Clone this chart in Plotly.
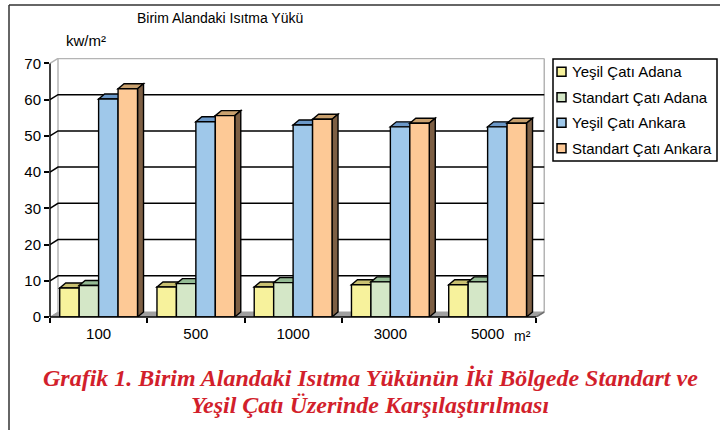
import plotly.graph_objects as go

categories = ["100", "500", "1000", "3000", "5000"]
series_names = ["Yeşil Çatı Adana", "Standart Çatı Adana", "Yeşil Çatı Ankara", "Standart Çatı Ankara"]
yesil_adana = [8.0, 8.3, 8.3, 8.9, 8.9]
standart_adana = [8.7, 9.2, 9.5, 9.7, 9.7]
yesil_ankara = [60.2, 53.9, 53.0, 52.5, 52.5]
standart_ankara = [63.0, 55.6, 54.6, 53.5, 53.5]
y_ticks = [0, 10, 20, 30, 40, 50, 60, 70]

series_values = [yesil_adana, standart_adana, yesil_ankara, standart_ankara]
front_colors = ["#f7f29c", "#d4e7c7", "#9fc8ea", "#fdc996"]
top_colors = ["#c9c070", "#94bb94", "#6b98c8", "#c8a06e"]
side_color = "#7d5f44"

W, H = 720, 430
L, R_px, T, B = 50, 545, 58, 317
x_range = [-0.5, 4.59]
y_range = [0, 71.5]
ppx = (R_px - L) / (x_range[1] - x_range[0])
ppy = (B - T) / (y_range[1] - y_range[0])

def xp(px):
    return (px - L) / (R_px - L)

def yp(py):
    return (B - py) / (B - T)

# 3D depth offsets (pixels -> data units)
dx_bar = 6 / ppx
dy_bar = 5 / ppy
dx_wall = 8 / ppx
dy_wall = 5 / ppy

n = len(series_values)
bargap = 0.2
w = (1 - bargap) / n

fig = go.Figure()
for i, (name, vals) in enumerate(zip(series_names, series_values)):
    fig.add_trace(go.Bar(
        x=categories, y=vals, name=name,
        marker=dict(color=front_colors[i], line=dict(color="black", width=1.4)),
        showlegend=False,
    ))

shapes = []
# floor
shapes.append(dict(type="path", xref="x", yref="y", layer="below",
                   path=f"M -0.5,0 L 4.5,0 L {4.5+dx_wall},{dy_wall} L {-0.5+dx_wall},{dy_wall} Z",
                   fillcolor="#a0a0a0", line=dict(color="#a0a0a0", width=1)))
# walls edges
shapes.append(dict(type="line", xref="x", yref="y", layer="below",
                   x0=-0.5 + dx_wall, x1=-0.5 + dx_wall, y0=dy_wall, y1=70 + dy_wall,
                   line=dict(color="#b4b4b4", width=1.5)))
shapes.append(dict(type="line", xref="x", yref="y", layer="below",
                   x0=4.5 + dx_wall, x1=4.5 + dx_wall, y0=dy_wall, y1=70 + dy_wall,
                   line=dict(color="#b4b4b4", width=1.5)))
shapes.append(dict(type="line", xref="x", yref="y", layer="below",
                   x0=4.5, x1=4.5 + dx_wall, y0=0, y1=dy_wall,
                   line=dict(color="#707070", width=1.5)))
# gridlines on back wall
for v in y_ticks[1:]:
    col = "#b4b4b4" if v == 70 else "black"
    shapes.append(dict(type="path", xref="x", yref="y", layer="below",
                       path=f"M -0.5,{v} L {-0.5+dx_wall},{v+dy_wall} L {4.5+dx_wall},{v+dy_wall}",
                       line=dict(color=col, width=1.5)))
# bar top faces and side face of last bar
for i, vals in enumerate(series_values):
    off = -0.5 + bargap / 2 + w / 2 + w * i
    for k, v in enumerate(vals):
        c = k + off
        xl, xr = c - w / 2, c + w / 2
        shapes.append(dict(type="path", xref="x", yref="y", layer="below",
                           path=f"M {xl},{v} L {xr},{v} L {xr+dx_bar},{v+dy_bar} L {xl+dx_bar},{v+dy_bar} Z",
                           fillcolor=top_colors[i], line=dict(color="black", width=1.4)))
        if i == n - 1:
            shapes.append(dict(type="path", xref="x", yref="y", layer="below",
                               path=f"M {xr},0 L {xr},{v} L {xr+dx_bar},{v+dy_bar} L {xr+dx_bar},{dy_bar} Z",
                               fillcolor=side_color, line=dict(color="black", width=1.4)))
# front axes
shapes.append(dict(type="line", xref="paper", yref="y", x0=0, x1=0, y0=0, y1=70,
                   line=dict(color="black", width=1.5)))
shapes.append(dict(type="line", xref="x", yref="paper", x0=-0.5, x1=4.5, y0=0, y1=0,
                   line=dict(color="black", width=1.5)))
# outer frame (top and left)
shapes.append(dict(type="line", xref="paper", yref="paper", x0=xp(9), x1=xp(720), y0=yp(5), y1=yp(5),
                   line=dict(color="#333333", width=1.5)))
shapes.append(dict(type="line", xref="paper", yref="paper", x0=xp(9), x1=xp(9), y0=yp(5), y1=yp(430),
                   line=dict(color="#333333", width=1.5)))

def label(text, px, py, size, family="Liberation Sans, Arial", color="black", xanchor="center"):
    return dict(text=text, x=xp(px), y=yp(py), xref="paper", yref="paper",
                xanchor=xanchor, yanchor="middle", showarrow=False,
                font=dict(family=family, size=size, color=color))

serif = "Liberation Serif, Times New Roman"
annotations = [
    label("Birim Alandaki Isıtma Yükü", 220, 18, 14),
    label("kw/m²", 86, 41, 15),
    label("m²", 522, 336, 14),
    label("<b><i>Grafik 1. Birim Alandaki Isıtma Yükünün İki Bölgede Standart ve</i></b>", 370, 378, 24,
          family=serif, color="#d21f2c"),
    label("<b><i>Yeşil Çatı Üzerinde Karşılaştırılması</i></b>", 370, 405, 24,
          family=serif, color="#d21f2c"),
]

# legend (box, swatches and labels)
leg_x0, leg_x1, leg_y0, leg_y1 = 553, 717, 59, 161
leg_step = (leg_y1 - leg_y0) / len(series_names)
shapes.append(dict(type="rect", xref="paper", yref="paper",
                   x0=xp(leg_x0), x1=xp(leg_x1), y0=yp(leg_y0), y1=yp(leg_y1),
                   fillcolor="white", line=dict(color="black", width=1.5)))
for i, name in enumerate(series_names):
    cy = leg_y0 + leg_step * (i + 0.5)
    shapes.append(dict(type="rect", xref="paper", yref="paper",
                       x0=xp(557), x1=xp(566), y0=yp(cy - 4.5), y1=yp(cy + 4.5),
                       fillcolor=front_colors[i], line=dict(color="black", width=1.5)))
    annotations.append(label(name, 570, cy, 15, xanchor="left"))

fig.update_layout(
    width=W, height=H,
    margin=dict(l=L, r=W - R_px, t=T, b=H - B),
    paper_bgcolor="white", plot_bgcolor="white",
    barmode="group", bargap=bargap, bargroupgap=0,
    font=dict(family="Liberation Sans, Arial", size=14, color="black"),
    showlegend=False,
    shapes=shapes,
    annotations=annotations,
)
fig.update_xaxes(type="category", range=x_range, showgrid=False, showline=False, zeroline=False,
                 ticks="outside", tickson="boundaries", ticklen=5, tickwidth=1.5, tickcolor="black",
                 tickfont=dict(size=15), ticklabelstandoff=6)
fig.update_yaxes(range=y_range, tickvals=y_ticks, showgrid=False, showline=False, zeroline=False,
                 ticks="outside", ticklen=5, tickwidth=1.5, tickcolor="black",
                 tickfont=dict(size=15))

fig.write_html("out.html", config={"displayModeBar": False},
               post_script="document.body.style.margin='0px';")
